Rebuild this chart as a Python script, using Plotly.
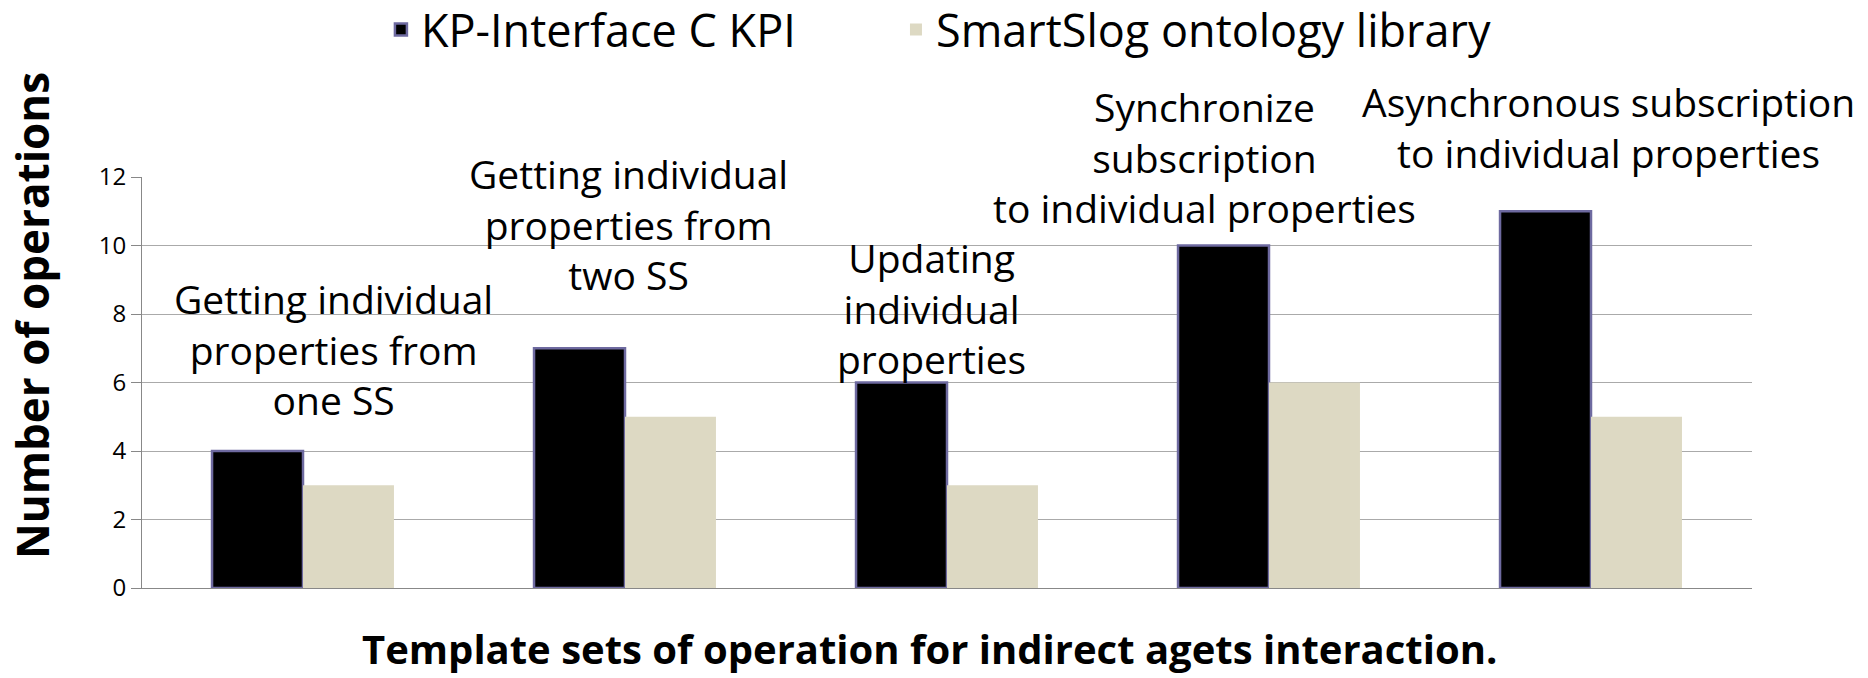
import plotly.graph_objects as go

# ---------------- data ----------------
categories = ["c1", "c2", "c3", "c4", "c5"]
kpi_values = [4, 7, 6, 10, 11]
smartslog_values = [3, 5, 3, 6, 5]
series_names = ["KP-Interface C KPI", "SmartSlog ontology library"]
category_labels = [
    "Getting individual<br>properties from<br>one SS",
    "Getting individual<br>properties from<br>two SS",
    "Updating<br>individual<br>properties",
    "Synchronize<br>subscription<br>to individual properties",
    "Asynchronous subscription<br>to individual properties",
]
y_ticks = [0, 2, 4, 6, 8, 10, 12]
x_title = "Template sets of operation for indirect agets interaction."
y_title = "Number of operations"

# ---------------- style / placement ----------------
FONT = "Open Sans"
LABEL_SIZE = 39
# offset (px) of the label block's middle baseline above the top of the black bar
label_mid_offset_px = [87, 109, 59, 73, 69]
# horizontal shift (px) of each label from the category centre
label_xshift_px = [30, 3, -16, -65, 17]

fig = go.Figure()
fig.add_trace(go.Bar(
    x=categories, y=kpi_values, name=series_names[0], legend="legend",
    marker=dict(color="#000000", line=dict(color="#6e6aa0", width=2.5)),
))
fig.add_trace(go.Bar(
    x=categories, y=smartslog_values, name=series_names[1], legend="legend2",
    marker=dict(color="#ddd9c3", line=dict(color="#ddd9c3", width=0)),
))

for i, txt in enumerate(category_labels):
    fig.add_annotation(
        x=categories[i], y=kpi_values[i], xref="x", yref="y",
        text=txt, showarrow=False, xanchor="center", yanchor="middle",
        align="center",
        xshift=label_xshift_px[i],
        yshift=label_mid_offset_px[i] + 0.388 * LABEL_SIZE,
        font=dict(family=FONT, size=LABEL_SIZE, color="#000000"),
    )

fig.add_annotation(
    x=-0.0683, y=0.662, xref="paper", yref="paper",
    xanchor="center", yanchor="middle",
    text="<b>" + y_title + "</b>", textangle=-90, showarrow=False,
    font=dict(family=FONT, size=44, color="#000000"),
)
fig.add_annotation(
    x=0.489, y=-0.1484, xref="paper", yref="paper",
    xanchor="center", yanchor="middle",
    text="<b>" + x_title + "</b>", showarrow=False,
    font=dict(family=FONT, size=40, color="#000000"),
)

legend_style = dict(
    orientation="h", yanchor="middle", y=1.358, xanchor="left",
    font=dict(family=FONT, size=45, color="#000000"),
    bgcolor="rgba(0,0,0,0)",
)

fig.update_layout(
    width=1868, height=678,
    margin=dict(l=142, r=116, t=177, b=90, autoexpand=False),
    paper_bgcolor="#ffffff", plot_bgcolor="#ffffff",
    barmode="group", bargap=0.435, bargroupgap=0,
    font=dict(family=FONT, color="#000000"),
    showlegend=True,
    legend=dict(legend_style, x=0.1484),
    legend2=dict(legend_style, x=0.4683),
    xaxis=dict(
        range=[-0.5, 4.5], autorange=False,
        showticklabels=False, showgrid=False, ticks="",
        showline=True, linecolor="#888888", linewidth=1,
        automargin=False,
    ),
    yaxis=dict(
        range=[0, 12], autorange=False,
        tickvals=y_ticks, ticktext=[str(v) for v in y_ticks],
        showgrid=True, gridcolor="#aaaaaa", gridwidth=1,
        showline=True, linecolor="#888888", linewidth=1,
        ticks="outside", ticklen=10, tickcolor="#888888",
        tickfont=dict(family=FONT, size=24, color="#000000"),
        zeroline=False, automargin=False,
    ),
)

fig.write_html(
    "out.html",
    config={"displayModeBar": False},
    post_script="document.body.style.margin='0';document.body.style.overflow='hidden';",
)
